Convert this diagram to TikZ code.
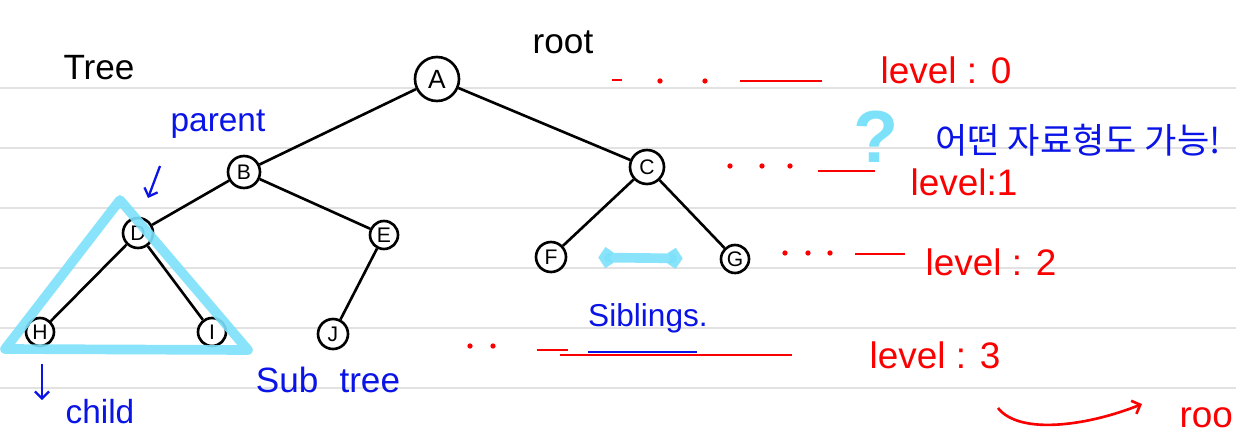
\documentclass[tikz,border=0pt]{standalone}
\usepackage{fontspec}
\setmainfont{Liberation Sans}
\newfontfamily\krfont{Noto Sans CJK KR}
\usetikzlibrary{arrows.meta}
\definecolor{penblue}{RGB}{10,20,230}
\definecolor{penred}{RGB}{250,0,0}
\definecolor{hilite}{RGB}{125,225,250}
\definecolor{ruling}{RGB}{226,226,226}

\begin{document}
\begin{tikzpicture}[
    x=0.02cm, y=-0.02cm,
    vertex/.style={draw, circle, fill=white, line width=1.5pt, inner sep=0pt, minimum size=0.56cm, font=\fontsize{12}{12}\selectfont},
    branch/.style={line width=1.5pt},
    ruled/.style={ruling, line width=1.2pt},
    highlight/.style={hilite, line width=5.5pt, line cap=round, line join=round, opacity=0.9},
    blueword/.style={text=penblue, font=\fontsize{19}{21}\selectfont},
    redword/.style={text=penred, font=\fontsize{21}{23}\selectfont},
    blackword/.style={font=\fontsize{20}{22}\selectfont},
    leader/.style={penred, line width=1.5pt},
    penarrow/.style={line width=1.3pt, -{Straight Barb[length=4pt,width=8pt]}}
]
\useasboundingbox (0,0) rectangle (1236,439);
\fill[white] (0,0) rectangle (1236,439);
\foreach \y in {88,148,...,388}
    \draw[ruled] (0,\y) -- (1236,\y);

\node[vertex, minimum size=0.88cm, font=\fontsize{15}{15}\selectfont] (A) at (437,79) {A};
\node[vertex, minimum size=0.64cm] (B) at (244,172) {B};
\node[vertex, minimum size=0.68cm] (C) at (647,167) {C};
\node[vertex, minimum size=0.6cm] (D) at (138,233) {D};
\node[vertex, minimum size=0.56cm] (E) at (384,235) {E};
\node[vertex, minimum size=0.6cm] (F) at (551,257) {F};
\node[vertex, minimum size=0.56cm] (G) at (735,259) {G};
\node[vertex, minimum size=0.56cm] (H) at (40,332) {H};
\node[vertex, minimum size=0.56cm] (I) at (212,332) {I};
\node[vertex, minimum size=0.6cm] (J) at (333,334) {J};

\draw[branch] (A) -- (B);
\draw[branch] (A) -- (C);
\draw[branch] (B) -- (D);
\draw[branch] (B) -- (E);
\draw[branch] (C) -- (F);
\draw[branch] (C) -- (G);
\draw[branch] (D) -- (H);
\draw[branch] (D) -- (I);
\draw[branch] (E) -- (J);

\draw[highlight] (120,200) -- (5,349) -- (248,350) -- cycle;
\draw[highlight, {Straight Barb[length=3pt,width=9pt]}-{Straight Barb[length=3pt,width=9pt]}, shorten <=0.62cm, shorten >=0.74cm] (F) -- (G);

\node[blackword] (title) at (99,68) {Tree};
\node[blackword] (rootlbl) at (563,42) {root};
\node[blueword] (parent) at (218,124) {parent};
\node[blueword] (child) at (100,412) {child};
\node[blueword, font=\fontsize{20}{22}\selectfont] (subtree) at (328,380) {Sub\hspace{0.6em}tree};
\node[blueword, font=\fontsize{18}{20}\selectfont] (sib) at (648,318) {Siblings.};

\coordinate (ptail) at (160,166);
\coordinate (phead) at (148,198);
\draw[penarrow, penblue] (ptail) -- (phead);
\coordinate (ctail) at (42,364);
\coordinate (chead) at (42,400);
\draw[penarrow, penblue] (ctail) -- (chead);

\node[redword] (lv0) at (946,70) {level : 0};
\node[redword] (lv1) at (964,182) {level:1};
\node[redword] (lv2) at (991,262) {level : 2};
\node[redword] (lv3) at (935,355) {level : 3};

\draw[leader] (612,80) -- (622,80);
\foreach \x in {660,705}
    \fill[penred] (\x,81) circle (1.5pt);
\draw[leader] (740,81) -- (822,81);
\foreach \x in {730,762,790}
    \fill[penred] (\x,166) circle (1.5pt);
\draw[leader] (818,171) -- (875,171);
\foreach \x in {785,808,830}
    \fill[penred] (\x,253) circle (1.5pt);
\draw[leader] (855,254) -- (905,254);
\foreach \x in {470,493}
    \fill[penred] (\x,346) circle (1.5pt);
\draw[leader] (537,350) -- (568,350);
\draw[penblue, line width=1.5pt] (588,352) -- (697,352);
\draw[leader] (560,355) -- (792,355);

\node[text=hilite, font=\fontsize{42}{42}\selectfont\bfseries] (ask) at (876,137) {?};
\node[text=penblue, font=\krfont\fontsize{20}{22}\selectfont] (note) at (1078,140) {어떤 자료형도 가능!};

\coordinate (cstart) at (998,408);
\coordinate (cend) at (1142,404);
\draw[leader, -{Straight Barb[length=4pt,width=8pt]}] (cstart) .. controls (1020,436) and (1090,425) .. (cend);
\node[redword, anchor=east, inner sep=1pt] (root2) at (1235,418) {roo};
\end{tikzpicture}
\end{document}
